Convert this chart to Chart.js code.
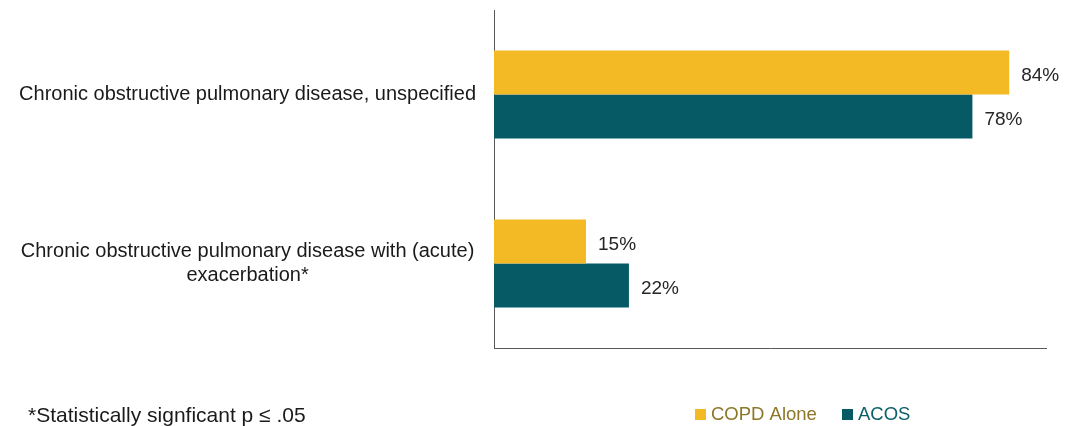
<!DOCTYPE html>
<html>
<head>
<meta charset="utf-8">
<script src="https://cdn.jsdelivr.net/npm/chart.js@4/dist/chart.umd.min.js"></script>
<style>
  html, body { margin: 0; padding: 0; background: #fff; }
  #wrap { width: 1077px; height: 426px; position: relative; }
</style>
</head>
<body>
<div id="wrap"><canvas id="chart"></canvas></div>
<script>
const categories = [
    'Chronic obstructive pulmonary disease, unspecified',
    ['Chronic obstructive pulmonary disease with (acute)', 'exacerbation*']
];
const seriesNames = ['COPD Alone', 'ACOS'];
const copdAlone = [84, 15];
const acos = [78, 22];
const footnote = '*Statistically signficant p \u2264 .05';

const FONT = "'Liberation Sans', Arial, sans-serif";

// value labels at the end of each bar
const barLabels = {
    id: 'barLabels',
    afterDatasetsDraw(chart) {
        const ctx = chart.ctx;
        ctx.save();
        ctx.font = '19px ' + FONT;
        ctx.fillStyle = '#262626';
        ctx.textAlign = 'left';
        ctx.textBaseline = 'middle';
        chart.data.datasets.forEach((ds, i) => {
            chart.getDatasetMeta(i).data.forEach((bar, j) => {
                ctx.fillText(ds.data[j] + '%', bar.x + 12, bar.y + 3);
            });
        });
        ctx.restore();
    }
};

// footnote and legend along the bottom
const bottomText = {
    id: 'bottomText',
    afterDraw(chart) {
        const ctx = chart.ctx;
        ctx.save();
        ctx.textBaseline = 'middle';
        ctx.textAlign = 'left';
        ctx.font = '21px ' + FONT;
        ctx.fillStyle = '#1a1a1a';
        ctx.fillText(footnote, 28, 416);

        ctx.font = '18.5px ' + FONT;
        const textColors = ['#8c7628', '#0b5e68'];
        const starts = [695, 842];
        chart.data.datasets.forEach((ds, i) => {
            ctx.fillStyle = ds.backgroundColor;
            ctx.fillRect(starts[i], 409, 11, 11);
            ctx.fillStyle = textColors[i];
            ctx.fillText(ds.label, starts[i] + 16, 415);
        });
        ctx.restore();
    }
};

new Chart(document.getElementById('chart'), {
    type: 'bar',
    data: {
        labels: categories,
        datasets: [
            { label: seriesNames[0], data: copdAlone, backgroundColor: '#f4ba25' },
            { label: seriesNames[1], data: acos, backgroundColor: '#055a66' }
        ]
    },
    options: {
        indexAxis: 'y',
        responsive: true,
        maintainAspectRatio: false,
        animation: false,
        layout: { padding: { top: 10, bottom: 78, right: 31, left: 0 } },
        datasets: {
            bar: { categoryPercentage: 0.52, barPercentage: 1 }
        },
        scales: {
            x: {
                min: 0,
                max: 90,
                grid: { display: false, drawTicks: false },
                border: { display: true, color: '#595959', width: 1 },
                ticks: { display: false },
                afterFit(s) { s.height = 0; }
            },
            y: {
                grid: { display: false, drawTicks: false },
                border: { display: true, color: '#595959', width: 1 },
                ticks: {
                    color: '#1a1a1a',
                    font: { family: FONT, size: 20 },
                    padding: 18,
                    crossAlign: 'center',
                    autoSkip: false
                },
                afterFit(s) {
                    s.width = 494;
                    s.paddingTop = 0;
                    s.paddingBottom = 0;
                }
            }
        },
        plugins: {
            legend: { display: false },
            tooltip: { enabled: false }
        }
    },
    plugins: [barLabels, bottomText]
});
</script>
</body>
</html>
